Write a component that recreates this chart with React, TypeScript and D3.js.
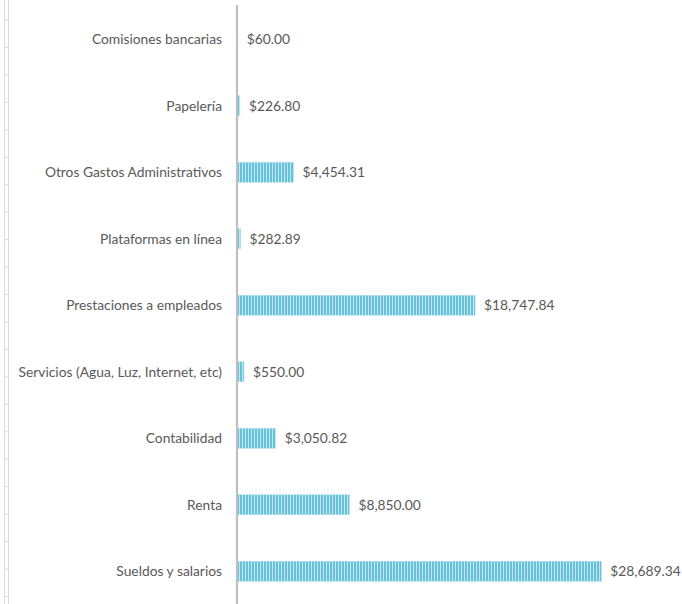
import React from "react";
import * as d3 from "d3";

const categories = [
  "Comisiones bancarias",
  "Papelería",
  "Otros Gastos Administrativos",
  "Plataformas en línea",
  "Prestaciones a empleados",
  "Servicios (Agua, Luz, Internet, etc)",
  "Contabilidad",
  "Renta",
  "Sueldos y salarios",
];
const values = [60.0, 226.8, 4454.31, 282.89, 18747.84, 550.0, 3050.82, 8850.0, 28689.34];

const W = 682;
const H = 604;
const FONT = "Lato, 'Open Sans', sans-serif";

export default function App() {
  const x = d3.scaleLinear().domain([0, 30000]).range([237, 237 + 381]);
  const y = d3.scaleBand<string>().domain(categories).range([6, 604.5]).padding(0);
  const barH = 20;
  const fmt = (v: number) => "$" + d3.format(",.2f")(v);
  const gridRows = d3.range(0, 23).map((i) => 20 + i * 27.45);

  return (
    <svg
      width={W}
      height={H}
      style={{ position: "absolute", left: 0, top: 0, background: "#fff" }}
    >
      <defs>
        <pattern id="stripes" width={3} height={4} patternUnits="userSpaceOnUse">
          <rect width={3} height={4} fill="#66c2db" />
          <rect x={2} width={1} height={4} fill="#c2e7f1" />
        </pattern>
      </defs>
      {/* faint spreadsheet grid at left edge */}
      <g stroke="#dcdcdc" strokeWidth={1}>
        <line x1={4.5} x2={4.5} y1={0} y2={H} />
        <line x1={8.5} x2={8.5} y1={0} y2={H} />
        {gridRows.map((gy, i) => (
          <line key={i} x1={4.5} x2={8.5} y1={gy} y2={gy} />
        ))}
      </g>
      {/* bars */}
      {categories.map((c, i) => {
        const cy = (y(c) as number) + y.bandwidth() / 2;
        return (
          <g key={c}>
            <rect
              x={x(0)}
              y={cy - barH / 2}
              width={Math.max(0, x(values[i]) - x(0))}
              height={barH}
              fill="url(#stripes)"
              stroke="#b3e0ec"
              strokeWidth={0.6}
            />
            <text
              x={x(values[i]) + 9}
              y={cy}
              dy="0.35em"
              fontFamily={FONT}
              fontSize={13.8}
              fill="#595959"
            >
              {fmt(values[i])}
            </text>
            <text
              x={222}
              y={cy}
              dy="0.35em"
              textAnchor="end"
              fontFamily={FONT}
              fontSize={13.8}
              fill="#595959"
            >
              {c}
            </text>
          </g>
        );
      })}
      {/* axis line */}
      <line x1={237} x2={237} y1={5} y2={H} stroke="#bfbfbf" strokeWidth={2.2} />
    </svg>
  );
}
